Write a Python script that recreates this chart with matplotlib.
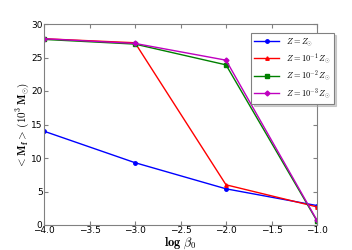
import matplotlib
matplotlib.use("Agg")
import matplotlib.pyplot as plt

plt.rcParams['mathtext.fontset'] = 'cm'

log_beta = [-4.0, -3.0, -2.0, -1.0]
z_sun = [14.0, 9.3, 5.4, 2.9]
z_m1 = [27.8, 27.2, 6.0, 2.7]
z_m2 = [27.7, 27.0, 23.9, 0.6]
z_m3 = [27.8, 27.1, 24.6, 0.7]

labels = [r'$Z=Z_{\odot}$', r'$Z=10^{-1}\,Z_{\odot}$',
          r'$Z=10^{-2}\,Z_{\odot}$', r'$Z=10^{-3}\,Z_{\odot}$']

fig = plt.figure(figsize=(3.52, 2.5), dpi=100)
ax = fig.add_axes([44/352, 25/250, 273/352, 201/250])

ax.plot(log_beta, z_sun, color='blue', marker='o', ms=2.5, lw=1, label=labels[0])
ax.plot(log_beta, z_m1, color='red', marker='^', ms=2.5, lw=1, label=labels[1])
ax.plot(log_beta, z_m2, color='green', marker='s', ms=2.5, lw=1, label=labels[2])
ax.plot(log_beta, z_m3, color='m', marker='D', ms=2.5, lw=1, label=labels[3])

ax.set_xlim(-4.0, -1.0)
ax.set_ylim(0, 30)
ax.set_xticks([-4.0, -3.5, -3.0, -2.5, -2.0, -1.5, -1.0])
ax.set_yticks([0, 5, 10, 15, 20, 25, 30])
ax.tick_params(direction='in', labelsize=6.5, length=3, color='gray', pad=1,
               top=True, right=True)
for s in ax.spines.values():
    s.set_color('gray')

ax.set_xlabel(r'$\mathbf{log}\ \beta_0$', fontsize=9, labelpad=0)
ax.set_ylabel(r'$<\mathbf{M_f}>\,(10^3\,\mathbf{M}_{\odot})$', fontsize=8, labelpad=0)

leg = ax.legend(loc='upper left', bbox_to_anchor=(0.76, 0.955), fontsize=6,
                shadow={'color': '0.65', 'ox': 1.5, 'oy': -1.5},
                fancybox=False, framealpha=1, handlelength=3.0,
                borderpad=0.35, labelspacing=0.35, handletextpad=0.8,
                borderaxespad=0)
leg.get_frame().set_edgecolor('gray')
leg.get_frame().set_linewidth(0.8)

fig.savefig('out.png', dpi=100)
